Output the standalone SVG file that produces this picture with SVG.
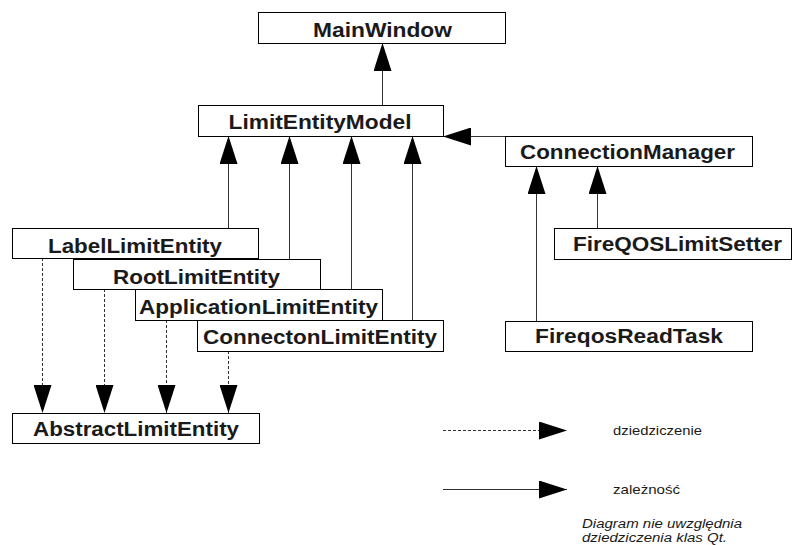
<svg xmlns="http://www.w3.org/2000/svg" width="792" height="545" viewBox="0 0 792 545">
  <style>
    .box rect { fill: #ffffff; stroke: #000000; stroke-width: 1; }
    .box text { font-family: "Liberation Sans", Arial, sans-serif; font-weight: bold; font-size: 20px; fill: #1a1a1a; text-anchor: middle; }
    .dep { stroke: #333333; stroke-width: 1; fill: none; marker-end: url(#head); }
    .inh { stroke: #333333; stroke-width: 1; fill: none; stroke-dasharray: 3 2; marker-end: url(#head); }
    .legend { font-family: "Liberation Sans", Arial, sans-serif; font-size: 13.5px; fill: #1a1a1a; }
    .note { font-style: italic; font-size: 12.5px; }
  </style>
  <defs>
    <marker id="head" markerUnits="userSpaceOnUse" markerWidth="28" markerHeight="18" refX="28" refY="9" orient="auto" viewBox="0 0 28 18">
      <path d="M0,0 L28,9 L0,18 Z" fill="#000000"/>
    </marker>
  </defs>

  <rect width="792" height="545" fill="#ffffff"/>

  <!-- connectors -->
  <g id="connectors">
    <!-- dependencies -->
    <line class="dep" x1="382.5" y1="105" x2="382.5" y2="43"/>
    <line class="dep" x1="228.5" y1="228" x2="228.5" y2="136"/>
    <line class="dep" x1="289.5" y1="259" x2="289.5" y2="136"/>
    <line class="dep" x1="351.5" y1="289" x2="351.5" y2="136"/>
    <line class="dep" x1="412.5" y1="320" x2="412.5" y2="136"/>
    <line class="dep" x1="505" y1="136.5" x2="443" y2="136.5"/>
    <line class="dep" x1="536.5" y1="321" x2="536.5" y2="166"/>
    <line class="dep" x1="597.5" y1="228" x2="597.5" y2="166"/>
    <!-- inheritance -->
    <line class="inh" x1="42.5" y1="258" x2="42.5" y2="413"/>
    <line class="inh" x1="104.5" y1="289" x2="104.5" y2="413"/>
    <line class="inh" x1="166.5" y1="320" x2="166.5" y2="413"/>
    <line class="inh" x1="228.5" y1="351" x2="228.5" y2="413"/>
  </g>

  <!-- classes -->
  <g id="MainWindow" class="box">
    <rect x="258.5" y="12.5" width="247" height="31"/>
    <text x="382.5" y="37" textLength="139" lengthAdjust="spacingAndGlyphs">MainWindow</text>
  </g>
  <g id="LimitEntityModel" class="box">
    <rect x="198.5" y="105.5" width="245" height="31"/>
    <text x="320" y="128.5" textLength="183" lengthAdjust="spacingAndGlyphs">LimitEntityModel</text>
  </g>
  <g id="ConnectionManager" class="box">
    <rect x="505.5" y="136.5" width="247" height="30"/>
    <text x="627.5" y="159" textLength="215" lengthAdjust="spacingAndGlyphs">ConnectionManager</text>
  </g>
  <g id="FireQOSLimitSetter" class="box">
    <rect x="554.5" y="228.5" width="237" height="31"/>
    <text x="677.5" y="251" textLength="209" lengthAdjust="spacingAndGlyphs">FireQOSLimitSetter</text>
  </g>
  <g id="FireqosReadTask" class="box">
    <rect x="505.5" y="321.5" width="247" height="30"/>
    <text x="629" y="343" textLength="188" lengthAdjust="spacingAndGlyphs">FireqosReadTask</text>
  </g>
  <g id="LabelLimitEntity" class="box">
    <rect x="12.5" y="228.5" width="246" height="30"/>
    <text x="135" y="253" textLength="174" lengthAdjust="spacingAndGlyphs">LabelLimitEntity</text>
  </g>
  <g id="RootLimitEntity" class="box">
    <rect x="73.5" y="259.5" width="247" height="30"/>
    <text x="196.5" y="283.5" textLength="167" lengthAdjust="spacingAndGlyphs">RootLimitEntity</text>
  </g>
  <g id="ApplicationLimitEntity" class="box">
    <rect x="135.5" y="289.5" width="247" height="31"/>
    <text x="258.5" y="313.5" textLength="239" lengthAdjust="spacingAndGlyphs">ApplicationLimitEntity</text>
  </g>
  <g id="ConnectonLimitEntity" class="box">
    <rect x="197.5" y="320.5" width="246" height="31"/>
    <text x="320" y="344" textLength="234" lengthAdjust="spacingAndGlyphs">ConnectonLimitEntity</text>
  </g>
  <g id="AbstractLimitEntity" class="box">
    <rect x="12.5" y="413.5" width="247" height="30"/>
    <text x="136" y="435.5" textLength="206" lengthAdjust="spacingAndGlyphs">AbstractLimitEntity</text>
  </g>

  <!-- legend -->
  <g id="legend">
    <line class="inh" x1="443" y1="430.5" x2="567" y2="430.5" stroke-dasharray="4 3"/>
    <text class="legend" x="613" y="435" textLength="89" lengthAdjust="spacingAndGlyphs">dziedziczenie</text>
    <line class="dep" x1="443" y1="489.5" x2="567" y2="489.5"/>
    <text class="legend" x="613" y="494" textLength="67" lengthAdjust="spacingAndGlyphs">zależność</text>
    <text class="legend note" x="582" y="528" textLength="160" lengthAdjust="spacingAndGlyphs">Diagram nie uwzględnia</text>
    <text class="legend note" x="582" y="542" textLength="145" lengthAdjust="spacingAndGlyphs">dziedziczenia klas Qt.</text>
  </g>
</svg>
